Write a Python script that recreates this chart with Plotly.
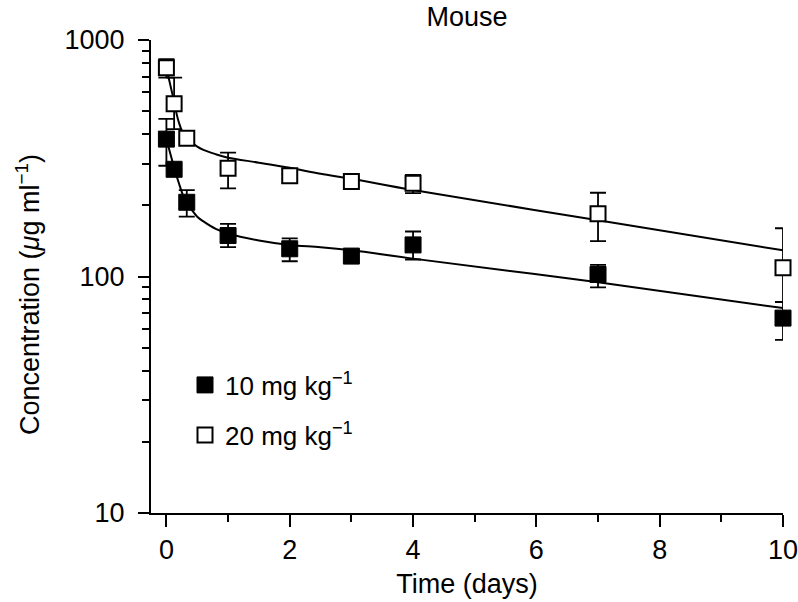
import plotly.graph_objects as go

# ---- data ----
time_points = [0, 0.125, 0.33, 1, 2, 3, 4, 7, 10]

conc_10 = [381, 284, 206, 149, 131, 122, 136, 102, 66.7]
err_10_plus = [83, 0, 26, 18, 14, 5, 19, 10, 11.3]
err_10_minus = [87, 0, 27, 16, 15, 5, 18, 12, 12.7]

conc_20 = [764, 537, 384, 287, 267, 252, 248, 184, 109]
err_20_plus = [65, 156, 0, 47, 18, 10, 21, 42, 51]
err_20_minus = [71, 117, 0, 51, 19, 10, 23, 43, 31]

fit_time = [0, 0.1, 0.2, 0.3, 0.4, 0.5, 0.6, 0.8, 1.0, 1.5, 2, 2.5, 3, 4, 7, 10]
fit_10 = [381, 305, 249, 211, 193, 179, 171, 159, 152, 142, 136, 133, 129, 119, 94.5, 73.5]
fit_20 = [762, 586, 450, 389, 372, 354, 343, 329, 318, 303, 288, 272, 259, 232, 173, 129]

x_tickvals = [0, 2, 4, 6, 8, 10]
x_minor_tickvals = [1, 3, 5, 7, 9]
y_tickvals = [10, 100, 1000]
y_ticktext = ["10", "100", "1000"]
y_minor_tickvals = [20, 30, 40, 50, 60, 70, 80, 90, 200, 300, 400, 500, 600, 700, 800, 900]

legend_10 = "10 mg kg<sup>−1</sup>"
legend_20 = "20 mg kg<sup>−1</sup>"
x_title = "Time (days)"
y_title = "Concentration (<i>μ</i>g ml<sup>−1</sup>)"
chart_title = "Mouse"

FONT = "Liberation Sans, Arial, Helvetica, sans-serif"
FS = 27

# page body margin is removed by the post script, so the figure fills the window
W, H = 798, 602
L, R, T, B = 151, 15, 40, 89
PW = W - L - R
PH = H - T - B


def px_x(x):  # page x pixel -> paper coordinate
    return (x - L) / PW


def px_y(y):  # page y pixel -> paper coordinate
    return (H - B - y) / PH


fig = go.Figure()

fig.add_trace(go.Scatter(x=fit_time, y=fit_10, mode="lines", line=dict(color="black", width=2, shape="spline"),
                         showlegend=False, hoverinfo="skip", cliponaxis=False))
fig.add_trace(go.Scatter(x=fit_time, y=fit_20, mode="lines", line=dict(color="black", width=2, shape="spline"),
                         showlegend=False, hoverinfo="skip", cliponaxis=False))

fig.add_trace(go.Scatter(
    x=time_points, y=conc_10, mode="markers", name=legend_10, legend="legend",
    marker=dict(symbol="square", size=16, color="black", line=dict(color="black", width=1)),
    error_y=dict(type="data", symmetric=False, array=err_10_plus, arrayminus=err_10_minus,
                 color="black", thickness=1.8, width=8),
    cliponaxis=False))

fig.add_trace(go.Scatter(
    x=time_points, y=conc_20, mode="markers", name=legend_20, legend="legend2",
    marker=dict(symbol="square", size=15, color="white", line=dict(color="black", width=2)),
    error_y=dict(type="data", symmetric=False, array=err_20_plus, arrayminus=err_20_minus,
                 color="black", thickness=1.8, width=8),
    cliponaxis=False))

axis_font = dict(family=FONT, size=FS, color="black")

fig.update_layout(
    width=W, height=H,
    margin=dict(l=L, r=R, t=T, b=B, autoexpand=False),
    paper_bgcolor="white", plot_bgcolor="white",
    font=dict(family=FONT, size=FS, color="black"),
    title=dict(text=chart_title, xref="paper", x=0.5, xanchor="center",
               yref="container", y=1 - 17 / H, yanchor="middle",
               font=dict(family=FONT, size=FS, color="black")),
    xaxis=dict(range=[-0.25, 10], tickmode="array", tickvals=x_tickvals,
               ticks="outside", ticklen=12, tickwidth=2, tickcolor="black",
               showline=True, linecolor="black", linewidth=2, showgrid=False, zeroline=False,
               tickfont=axis_font, automargin=False, ticklabeloverflow="allow",
               minor=dict(tickvals=x_minor_tickvals, ticks="outside", ticklen=7, tickwidth=2,
                          tickcolor="black", showgrid=False),
               title=dict(text=x_title, font=axis_font, standoff=10)),
    yaxis=dict(type="log", range=[1, 3], tickmode="array", tickvals=y_tickvals,
               ticktext=y_ticktext,
               ticks="outside", ticklen=11, tickwidth=2, tickcolor="black",
               showline=True, linecolor="black", linewidth=2, showgrid=False, zeroline=False,
               tickfont=axis_font, ticklabelstandoff=8, automargin=False, ticklabeloverflow="allow",
               minor=dict(tickvals=y_minor_tickvals,
                          ticks="outside", ticklen=7, tickwidth=2, tickcolor="black", showgrid=False)),
    annotations=[dict(text=y_title, textangle=-90, xref="paper", yref="paper",
                      x=px_x(28), y=px_y(295), xanchor="center", yanchor="middle",
                      showarrow=False, font=axis_font)],
    legend=dict(x=px_x(185), xanchor="left", y=px_y(385), yanchor="middle",
                bgcolor="rgba(0,0,0,0)", font=dict(family=FONT, size=FS - 1, color="black")),
    legend2=dict(x=px_x(185), xanchor="left", y=px_y(435), yanchor="middle",
                 bgcolor="rgba(0,0,0,0)", font=dict(family=FONT, size=FS - 1, color="black")),
)

fig.write_html("out.html",
               config={"displayModeBar": False},
               post_script="document.body.style.margin='0';document.body.style.overflow='hidden';")
